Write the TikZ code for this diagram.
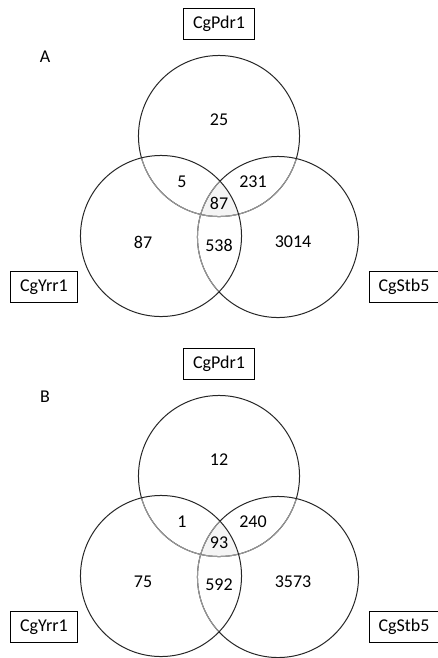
\documentclass[tikz,border=0pt]{standalone}
\usepackage{fontspec}
\setmainfont{Carlito}

\tikzstyle{setbox} = [draw, line width=0.8pt, inner xsep=7pt, minimum height=23pt, font=\fontsize{13.5}{16}\selectfont]
\tikzstyle{count} = [font=\fontsize{13.5}{16}\selectfont]
\tikzstyle{ring} = [draw=black!85, line width=0.75pt]
\tikzstyle{inner} = [draw=black!40, line width=0.75pt]

\begin{document}
\begin{tikzpicture}[x=0.75pt,y=-0.75pt]
\useasboundingbox (0,0) rectangle (437,658);
\foreach \dy/\tag/\p/\py/\ps/\pys/\y/\ys/\s in
    {0/A/25/5/231/87/87/538/3014, 340/B/12/1/240/93/75/592/3573} {
\begin{scope}[shift={(0,\dy)}]
    \coordinate (pdr\tag) at (219,136);
    \coordinate (yrr\tag) at (161,236);
    \coordinate (stb\tag) at (278,237);
    % shaded centre
    \begin{scope}
        \clip (pdr\tag) circle (60.4pt);
        \clip (stb\tag) circle (60.4pt);
        \fill[black!4] (yrr\tag) circle (60.4pt);
    \end{scope}
    % top circle
    \draw[ring] (pdr\tag) circle (60.4pt);
    \begin{scope}
        \clip (yrr\tag) circle (60.4pt);
        \draw[inner] (pdr\tag) circle (60.4pt);
    \end{scope}
    \begin{scope}
        \clip (stb\tag) circle (60.4pt);
        \draw[inner] (pdr\tag) circle (60.4pt);
    \end{scope}
    % right circle
    \draw[ring] (stb\tag) circle (60.4pt);
    \begin{scope}
        \clip (yrr\tag) circle (60.4pt);
        \draw[inner] (stb\tag) circle (60.4pt);
    \end{scope}
    % left circle
    \draw[ring] (yrr\tag) circle (60.4pt);

    \node[setbox] (pdrlab\tag) at (219,24) {CgPdr1};
    \node[setbox] (yrrlab\tag) at (44,287) {CgYrr1};
    \node[setbox] (stblab\tag) at (404,287) {CgStb5};
    \node[count] (panel\tag) at (45,57) {\tag};

    \node[count] (p\tag) at (219,120) {\p};
    \node[count] (py\tag) at (182,182) {\py};
    \node[count] (ps\tag) at (253,182) {\ps};
    \node[count] (pys\tag) at (219,203) {\pys};
    \node[count] (y\tag) at (143,242) {\y};
    \node[count] (ys\tag) at (219,245) {\ys};
    \node[count] (s\tag) at (293,242) {\s};
\end{scope}
}
\end{tikzpicture}
\end{document}
